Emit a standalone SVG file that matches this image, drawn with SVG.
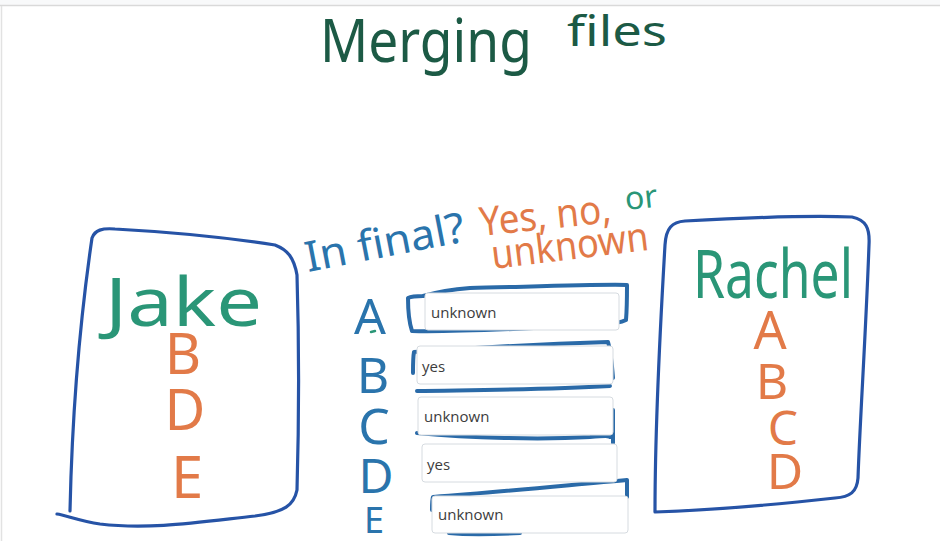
<svg xmlns="http://www.w3.org/2000/svg" width="940" height="541" viewBox="0 0 940 541">
<defs>
<style>
.ink{fill:none;stroke-linecap:round;stroke-linejoin:round}
.box{stroke:#2653a6;stroke-width:3.2}
.br{stroke:#2a6aa8;stroke-width:4}
.hand{font-family:"Noto Sans","DejaVu Sans",sans-serif}
.green{fill:#2a9677}
.orange{fill:#e27a48}
.blue{fill:#2a74ac}
.inp{fill:#fff;stroke:#d6dbe0;stroke-width:1}
.val{font-family:"Open Sans","Noto Sans",sans-serif;font-size:15px;fill:#3c3c3c}
</style>
</defs>
<rect width="940" height="541" fill="#fff"/>
<rect width="940" height="5" fill="#f8f9fa"/>
<line x1="0" y1="5.5" x2="940" y2="5.5" stroke="#d9d9d9" stroke-width="1.5"/>
<line x1="1.5" y1="6" x2="1.5" y2="541" stroke="#e2e2e2" stroke-width="1.5"/>

<g id="title">
<text class="hand" x="320" y="62" font-size="60" fill="#1c5a45" textLength="212" lengthAdjust="spacingAndGlyphs">Merging</text>
<text class="hand" x="567" y="46" font-size="42" fill="#1c5a45" textLength="100" lengthAdjust="spacingAndGlyphs">files</text>
</g>

<g id="jake">
<path class="ink box" d="M70,511 C72,420 80,320 92,238 C95,230 102,228 115,229 C170,232 230,238 275,245 C288,250 294,258 297,275 C299,340 299,420 297,490 C294,505 285,512 255,516 C200,522 150,530 100,524 C80,521 65,515 57,514"/>
<text class="hand green" x="105" y="326" font-size="68" textLength="157" lengthAdjust="spacingAndGlyphs">Jake</text>
<text class="hand orange" x="183" y="374" font-size="56" text-anchor="middle">B</text>
<text class="hand orange" x="185" y="430" font-size="56" text-anchor="middle">D</text>
<text class="hand orange" x="187" y="498" font-size="58" text-anchor="middle">E</text>
</g>

<g id="rachel">
<path class="ink box" d="M655,512 C655,430 660,330 665,245 C666,228 672,222 685,221 C740,218 800,215 852,217 C866,220 870,228 869,245 C866,330 860,420 858,478 C857,492 850,497 835,498 C780,504 720,510 655,512"/>
<text class="hand green" x="693" y="298" font-size="68" textLength="160" lengthAdjust="spacingAndGlyphs">Rachel</text>
<text class="hand orange" x="770" y="349" font-size="52" text-anchor="middle">A</text>
<text class="hand orange" x="772" y="399" font-size="50" text-anchor="middle">B</text>
<text class="hand orange" x="783" y="445" font-size="48" text-anchor="middle">C</text>
<text class="hand orange" x="785" y="489" font-size="50" text-anchor="middle">D</text>
</g>

<g id="question">
<text class="hand blue" x="308" y="272" font-size="42" transform="rotate(-11 308 272)" textLength="162" lengthAdjust="spacingAndGlyphs">In final?</text>
<text class="hand orange" x="481" y="236" font-size="40" transform="rotate(-6 481 236)" textLength="132" lengthAdjust="spacingAndGlyphs">Yes, no,</text>
<text class="hand green" x="626" y="210" font-size="32" transform="rotate(-6 626 210)">or</text>
<text class="hand orange" x="493" y="269" font-size="40" transform="rotate(-7 493 269)" textLength="158" lengthAdjust="spacingAndGlyphs">unknown</text>
</g>

<g id="letters">
<text class="hand blue" x="370" y="334" font-size="50" text-anchor="middle">A</text>
<text class="hand blue" x="373" y="393" font-size="50" text-anchor="middle">B</text>
<text class="hand blue" x="374" y="444" font-size="50" text-anchor="middle">C</text>
<text class="hand blue" x="376" y="493" font-size="48" text-anchor="middle">D</text>
<text class="hand blue" x="374" y="533" font-size="36" text-anchor="middle">E</text>
<path class="ink" d="M371,332 L375,331" stroke="#2a9677" stroke-width="2.5"/>
</g>

<g id="connectors">
<path class="ink br" d="M423,296 C415,296 410,297 408,298 C408,310 409,322 412,331 C440,332 520,329 600,325 C612,324 622,322 626,320 C627,308 627,295 627,285 C600,284 520,287 470,288 C445,290 430,294 423,296"/>
<path class="ink br" d="M413,373 C413,365 413,357 414,352 C470,348 540,344 608,342 C611,352 612,365 613,378"/>
<path class="ink br" d="M417,391 C470,390 540,390 610,386"/>
<path class="ink br" d="M417,433 C470,438 540,440 590,437 C602,436 609,436 610,437 M613,410 C613,420 613,432 613,443"/>
<path class="ink br" d="M432,510 C432,504 432,500 433,497 C500,492 570,485 627,480 C627,486 627,492 627,497 M449,533 C470,535 500,534 520,533"/>
</g>

<g id="inputs">
<rect class="inp" x="425" y="293" width="194" height="37" rx="3"/>
<text class="val" x="431" y="318">unknown</text>
<rect class="inp" x="417" y="346" width="196" height="38" rx="3"/>
<text class="val" x="422" y="372">yes</text>
<rect class="inp" x="418" y="397" width="195" height="38" rx="3"/>
<text class="val" x="424" y="422">unknown</text>
<rect class="inp" x="422" y="444" width="195" height="38" rx="3"/>
<text class="val" x="427" y="470">yes</text>
<rect class="inp" x="432" y="496" width="196" height="37" rx="3"/>
<text class="val" x="438" y="520">unknown</text>
</g>
</svg>
